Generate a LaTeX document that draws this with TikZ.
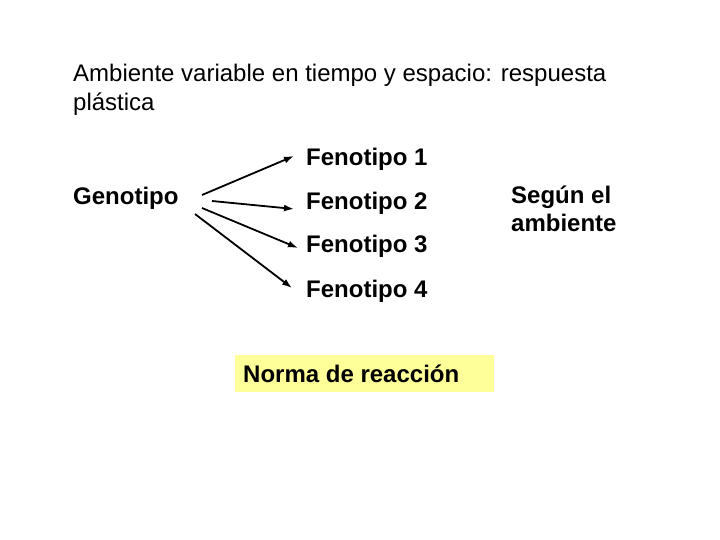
\documentclass[tikz,border=0pt]{standalone}
\usepackage{fontspec}
\setmainfont{Liberation Sans}
\usetikzlibrary{arrows.meta}
\begin{document}
\begin{tikzpicture}[x=1pt,y=-1pt,
  txt/.style={anchor=base west,inner sep=0pt,font=\fontsize{24}{28}\selectfont},
  btxt/.style={anchor=base west,inner sep=0pt,font=\fontsize{24}{28}\selectfont\bfseries},
  arr/.style={line width=1.8pt,-{Latex[length=10pt,width=7pt]}}]
\useasboundingbox (0,0) rectangle (720,540);
\node[txt] (t1) at (73,82) {Ambiente variable en tiempo y espacio: respuesta};
\node[txt] (t2) at (73,111) {plástica};
\node[btxt] (g) at (73,205) {Genotipo};
\node[btxt] (f1) at (306,166) {Fenotipo 1};
\node[btxt] (f2) at (306,210) {Fenotipo 2};
\node[btxt] (f3) at (306,252) {Fenotipo 3};
\node[btxt] (f4) at (306,297) {Fenotipo 4};
\node[btxt] (s1) at (511,204) {Según el};
\node[btxt] (s2) at (511,232) {ambiente};
\node[draw=none,fill={rgb,255:red,255;green,255;blue,153},minimum width=259pt,minimum height=37pt,inner sep=0pt] (nr) at (364.5,373.5) {};
\node[btxt] (nrt) at (243,382) {Norma de reacción};
\coordinate (a1) at (202,195);
\coordinate (b1) at (294,156);
\coordinate (a2) at (212,201);
\coordinate (b2) at (294,209);
\coordinate (a3) at (202,208);
\coordinate (b3) at (298,248);
\coordinate (a4) at (195,214);
\coordinate (b4) at (292,288);
\draw[arr] (a1) -- (b1);
\draw[arr] (a2) -- (b2);
\draw[arr] (a3) -- (b3);
\draw[arr] (a4) -- (b4);
\end{tikzpicture}
\end{document}
